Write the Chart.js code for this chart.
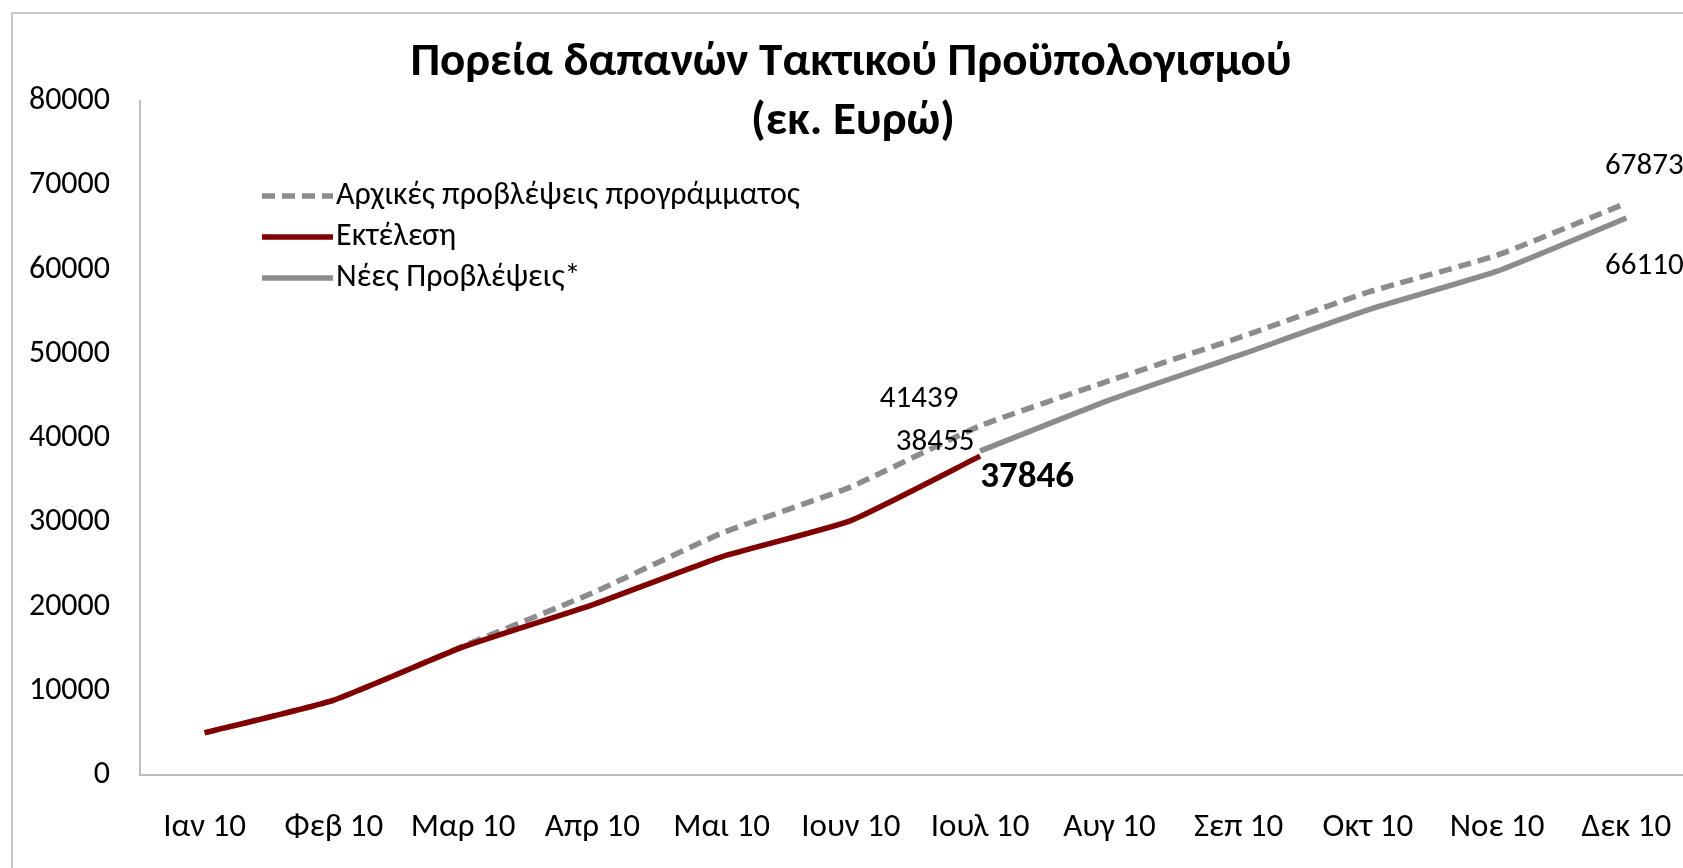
<!DOCTYPE html>
<html lang="el">
<head>
<meta charset="utf-8">
<title>Πορεία δαπανών Τακτικού Προϋπολογισμού</title>
<script src="https://cdn.jsdelivr.net/npm/chart.js@4.4.0/dist/chart.umd.min.js"></script>
<style>
    html, body { margin: 0; padding: 0; background: #fff; overflow: hidden; }
    #wrap { position: relative; width: 1720px; height: 868px; }
</style>
</head>
<body>
<div id="wrap"><canvas id="budgetChart" width="1720" height="868"></canvas></div>
<script>
/* 1. 데이터 */
const months = ['Ιαν 10', 'Φεβ 10', 'Μαρ 10', 'Απρ 10', 'Μαι 10', 'Ιουν 10',
                'Ιουλ 10', 'Αυγ 10', 'Σεπ 10', 'Οκτ 10', 'Νοε 10', 'Δεκ 10'];
const yTicks = [0, 10000, 20000, 30000, 40000, 50000, 60000, 70000, 80000];

const initialPlan = [5000, 8900, 15300, 21600, 28700, 34200, 41439, 46800, 51900, 57300, 61700, 67873];
const execution = [5000, 8900, 15200, 20200, 25900, 30200, 37846, null, null, null, null, null];
const newForecast = [null, null, null, null, null, null, 38455, 44500, 49800, 55200, 59800, 66110];

const seriesNames = ['Αρχικές προβλέψεις προγράμματος', 'Εκτέλεση', 'Νέες Προβλέψεις*'];
const titleLines = ['Πορεία δαπανών Τακτικού Προϋπολογισμού', '(εκ. Ευρώ)'];

const FONT = 'Carlito, "Liberation Sans Narrow", Lato, sans-serif';

/* 2. 제목, 테두리, 범례, 데이터 라벨을 그리는 플러그인 */
const decorPlugin = {
    id: 'decor',
    beforeDraw(chart) {
        const ctx = chart.ctx;
        ctx.save();
        ctx.fillStyle = '#fff';
        ctx.fillRect(0, 0, chart.width, chart.height);
        ctx.strokeStyle = '#c8c8c8';
        ctx.lineWidth = 2;
        ctx.strokeRect(12, 13, 3000, 3000);
        ctx.restore();
    },
    afterDatasetsDraw(chart) {
        const ctx = chart.ctx;
        ctx.save();

        // 제목
        ctx.fillStyle = '#000';
        ctx.textAlign = 'center';
        ctx.textBaseline = 'middle';
        ctx.font = 'bold 47px ' + FONT;
        ctx.fillText(titleLines[0], 851, 63);
        ctx.fillText(titleLines[1], 853, 122);

        // 범례
        ctx.font = '32px ' + FONT;
        ctx.textAlign = 'left';
        chart.data.datasets.forEach((ds, i) => {
            const y = 196 + i * 41;
            ctx.beginPath();
            ctx.strokeStyle = ds.borderColor;
            ctx.lineWidth = ds.borderWidth;
            ctx.setLineDash(ds.borderDash || []);
            ctx.moveTo(262, y);
            ctx.lineTo(333, y);
            ctx.stroke();
            ctx.setLineDash([]);
            ctx.fillStyle = '#000';
            ctx.fillText(ds.label, 336, y);
        });

        // 데이터 라벨
        const x = chart.scales.x;
        const yS = chart.scales.y;
        const labels = [
            { data: initialPlan, idx: 6, dx: -61, dy: -27, bold: false },
            { data: newForecast, idx: 6, dx: -45, dy: -9, bold: false },
            { data: execution, idx: 6, dx: 47, dy: 22, bold: true },
            { data: initialPlan, idx: 11, dx: 18, dy: -37, bold: false },
            { data: newForecast, idx: 11, dx: 18, dy: 48, bold: false }
        ];
        ctx.textAlign = 'center';
        labels.forEach(l => {
            const v = l.data[l.idx];
            ctx.font = (l.bold ? 'bold 37px ' : '31px ') + FONT;
            ctx.fillStyle = '#000';
            ctx.fillText(String(v), x.getPixelForValue(l.idx) + l.dx, yS.getPixelForValue(v) + l.dy);
        });
        ctx.restore();
    }
};

/* 3. 차트 생성 */
const ctx = document.getElementById('budgetChart').getContext('2d');
new Chart(ctx, {
    type: 'line',
    data: {
        labels: months,
        datasets: [
            {
                label: seriesNames[0],
                data: initialPlan,
                borderColor: '#8c8c8c',
                borderWidth: 5.5,
                borderDash: [13, 7],
                tension: 0.15,
                pointRadius: 0,
                order: 3
            },
            {
                label: seriesNames[1],
                data: execution,
                borderColor: '#800000',
                borderWidth: 5.5,
                tension: 0.15,
                pointRadius: 0,
                order: 1
            },
            {
                label: seriesNames[2],
                data: newForecast,
                borderColor: '#8c8c8c',
                borderWidth: 5.5,
                tension: 0.15,
                pointRadius: 0,
                order: 2
            }
        ]
    },
    options: {
        responsive: false,
        animation: false,
        devicePixelRatio: 1,
        layout: { padding: { top: 101, right: 29, left: 0, bottom: 0 } },
        plugins: {
            legend: { display: false },
            title: { display: false },
            tooltip: { enabled: false }
        },
        scales: {
            x: {
                offset: true,
                grid: { display: false, drawTicks: false },
                border: { display: true, color: '#bdbdbd', width: 2 },
                ticks: {
                    color: '#000',
                    font: { family: FONT, size: 33 },
                    padding: 33,
                    maxRotation: 0,
                    autoSkip: false
                },
                afterFit: s => { s.height = 93; }
            },
            y: {
                min: 0,
                max: 80000,
                afterBuildTicks: s => { s.ticks = yTicks.map(v => ({ value: v })); },
                grid: { display: false, drawTicks: false },
                border: { display: true, color: '#bdbdbd', width: 2 },
                ticks: {
                    color: '#000',
                    font: { family: FONT, size: 32 },
                    padding: 30,
                    callback: v => String(v)
                },
                afterFit: s => { s.width = 140; }
            }
        }
    },
    plugins: [decorPlugin]
});
</script>
</body>
</html>
